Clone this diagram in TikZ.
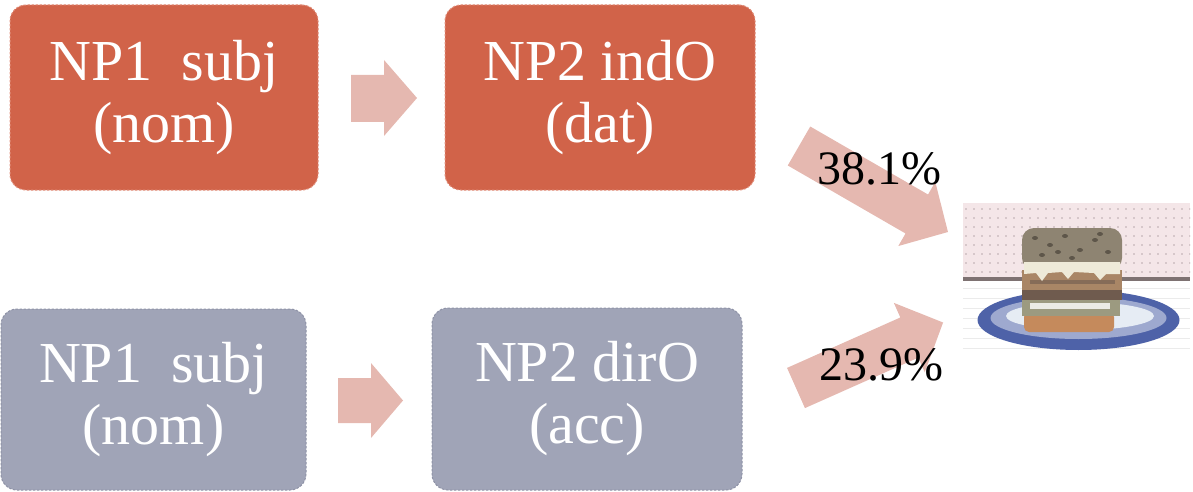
\documentclass[tikz,border=0pt]{standalone}
\usepackage{fontspec}
\setmainfont{Liberation Serif}
\definecolor{npred}{HTML}{D16349}
\definecolor{npredline}{HTML}{E08C78}
\definecolor{npgrey}{HTML}{A0A4B7}
\definecolor{npgreyline}{HTML}{8E92A6}
\definecolor{arrowpink}{HTML}{E5B8B0}
\definecolor{wallpink}{HTML}{F4E6E8}
\definecolor{walldot}{HTML}{B9A8AC}
\definecolor{shelf}{HTML}{7E7272}
\definecolor{plateblue}{HTML}{4E62A8}
\definecolor{plateinner}{HTML}{E6ECF4}
\definecolor{bun}{HTML}{8E8472}
\definecolor{bundark}{HTML}{5E564A}
\definecolor{mayo}{HTML}{EEEAD8}
\definecolor{patty}{HTML}{A98666}
\definecolor{pattydark}{HTML}{6F5B4E}
\definecolor{lettuce}{HTML}{9C9A80}
\definecolor{bunorange}{HTML}{C58A5C}
\begin{document}
\begin{tikzpicture}[x=1pt,y=1pt,
  npbox/.style={rounded corners=16pt, dashed, dash pattern=on 2.5pt off 1.5pt,
    line width=1pt, inner sep=0pt, text=white, align=center,
    font=\fontsize{58}{62}\selectfont},
  redbox/.style={npbox, fill=npred, draw=npredline, minimum width=308pt, minimum height=185pt},
  greybox/.style={npbox, fill=npgrey, draw=npgreyline, minimum width=310pt, minimum height=182pt},
  blockarrow/.style={fill=arrowpink},
  pct/.style={text=black, font=\fontsize{48}{50}\selectfont, inner sep=0pt}]
\useasboundingbox (0,0) rectangle (1193,-492);

% the four noun-phrase boxes
\node[redbox] (np1top) at (164,-97.5) {NP1~~subj\\(nom)};
\node[redbox, minimum width=310pt] (np2top) at (600,-97.5) {NP2 indO\\(dat)};
\node[greybox, minimum width=305pt, minimum height=181pt] (np1bot) at (153.5,-399.5) {NP1~~subj\\(nom)};
\node[greybox] (np2bot) at (587,-399) {NP2 dirO\\(acc)};

% small block arrows between the boxes
\fill[blockarrow] (351,-75) -- (384,-75) -- (384,-60) -- (417,-98) -- (384,-136)
  -- (384,-122) -- (351,-122) -- cycle;
\fill[blockarrow] (338,-378) -- (371,-378) -- (371,-363) -- (403,-400.5) -- (371,-438)
  -- (371,-423) -- (338,-423) -- cycle;

% large block arrows toward the picture
\begin{scope}[shift={(799,-146)}, rotate=-30]
  \fill[blockarrow] (0,22.5) -- (136,22.5) -- (136,37) -- (172,0) -- (136,-37)
    -- (136,-22.5) -- (0,-22.5) -- cycle;
\end{scope}
\begin{scope}[shift={(796,-388)}, rotate=24]
  \fill[blockarrow] (0,22) -- (124,22) -- (124,38) -- (161,0) -- (124,-38)
    -- (124,-22) -- (0,-22) -- cycle;
\end{scope}

\node[pct] (pcttop) at (879,-169) {38.1\%};
\node[pct] (pctbot) at (881,-365) {23.9\%};

% hamburger on a plate
\begin{scope}
  \clip (963,-203) rectangle (1190,-355);
  \fill[wallpink] (963,-203) rectangle (1190,-279);
  \fill[white] (963,-279) rectangle (1190,-355);
  \foreach \yy in {-209,-218,-227,-236,-245,-254,-263,-272}
    \foreach \xx in {966,974,...,1190}
      \fill[walldot] (\xx,\yy) circle (0.8pt);
  \foreach \yy in {-288,-298,-308,-318,-328,-338,-348}
    \draw[black!8, line width=0.8pt] (963,\yy) -- (1190,\yy);
  \fill[shelf] (963,-277) rectangle (1190,-281);

  % plate
  \fill[plateblue] (1078.5,-320) ellipse [x radius=101, y radius=30];
  \fill[plateblue!55!white] (1078.5,-318) ellipse [x radius=88, y radius=21];
  \fill[plateinner] (1080,-316) ellipse [x radius=74, y radius=14];

  % burger layers, bottom to top
  \fill[bunorange, rounded corners=5pt] (1024,-312) rectangle (1114,-332);
  \fill[lettuce] (1022,-298) rectangle (1120,-316);
  \fill[white!80!lettuce] (1030,-303) rectangle (1110,-309);
  \fill[pattydark] (1022,-288) rectangle (1122,-300);
  \fill[patty] (1022,-270) rectangle (1122,-290);
  \fill[pattydark!60!patty] (1030,-280) rectangle (1115,-284);
  \fill[bun, rounded corners=12pt] (1022,-228) rectangle (1122,-270);
  \foreach \px/\py in {1035/-238,1050/-245,1065/-236,1080/-250,1095/-240,1108/-252,1042/-255,1072/-258,1100/-234,1058/-252}
    \fill[bundark] (\px,\py) ellipse [x radius=3, y radius=2];
  \fill[mayo] (1024,-262) -- (1120,-262) -- (1120,-274) -- (1106,-274)
    -- (1100,-280) -- (1094,-273) -- (1074,-272) -- (1068,-279) -- (1062,-272)
    -- (1048,-273) -- (1042,-281) -- (1036,-273) -- (1024,-274) -- cycle;
\end{scope}
\end{tikzpicture}
\end{document}
